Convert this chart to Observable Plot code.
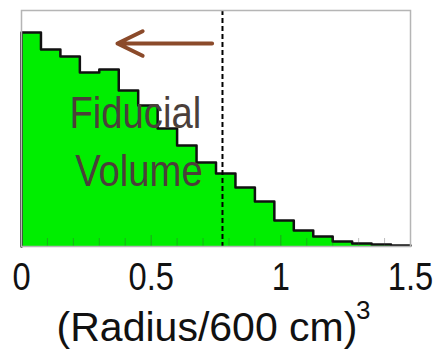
<!DOCTYPE html>
<html>
<head>
<meta charset="utf-8">
<script src="https://cdn.jsdelivr.net/npm/d3@7"></script>
<script src="https://cdn.jsdelivr.net/npm/@observablehq/plot@0.6"></script>
<style>
  html, body { margin: 0; padding: 0; background: #fff; }
  #chart svg { display: block; }
</style>
</head>
<body>
<div id="chart"></div>
<script>
// Histogram bins (lower edges) and heights (arbitrary units)
const binStart = [0, 0.075, 0.15, 0.225, 0.3, 0.375, 0.45, 0.525, 0.6, 0.675,
                  0.75, 0.825, 0.9, 0.975, 1.05, 1.125, 1.2, 1.275, 1.35, 1.425];
const binWidth = 0.075;
const counts = [214, 197, 190, 174, 177, 156, 141, 118, 101, 84,
                73, 59, 45, 26, 16, 10, 5, 3, 2, 1];
const majorTicks = [0, 0.5, 1, 1.5];
const majorTickLabels = ["0", "0.5", "1", "1.5"];
const minorTicks = [0.1, 0.2, 0.3, 0.4, 0.6, 0.7, 0.8, 0.9, 1.1, 1.2, 1.3, 1.4];
const cutX = 0.775;
const arrowFrom = 0.735, arrowTo = 0.37, arrowY = 203;
const annLines = ["Fiducial", "Volume"];
const annX = [0.185, 0.207];
const annY = [119, 61];
const xLabelMain = "(Radius/600 cm)";
const xLabelExp = "3";

const bins = binStart.map((x, i) => ({x1: x, x2: x + binWidth, y: counts[i]}));
const step = [{x: binStart[0], y: 0}]
  .concat(binStart.map((x, i) => ({x, y: counts[i]})))
  .concat([{x: binStart[binStart.length - 1] + binWidth, y: counts[counts.length - 1]}]);
const ann = annLines.map((t, i) => ({t, x: annX[i], y: annY[i]}));

const plot = Plot.plot({
  width: 444,
  height: 352,
  marginLeft: 21,
  marginRight: 34,
  marginTop: 10,
  marginBottom: 106,
  style: {fontFamily: "'Liberation Sans', Arial, sans-serif", background: "#fff"},
  x: {domain: [0, 1.5]},
  y: {domain: [0, 236], axis: null},
  marks: [
    Plot.rectY(bins, {x1: "x1", x2: "x2", y: "y", fill: "#00ee00", inset: 0, shapeRendering: "crispEdges"}),
    Plot.line(step, {x: "x", y: "y", curve: "step-after", stroke: "#111", strokeWidth: 2.5}),
    Plot.axisX({ticks: minorTicks, tickSize: -8, text: null, stroke: "#444", strokeOpacity: 0.35}),
    Plot.axisX({ticks: majorTicks, tickSize: -11, text: null, stroke: "#444", strokeOpacity: 0.45}),
    Plot.axisX({ticks: majorTicks, tickSize: 0, tickPadding: 17, fontSize: 38, label: null,
                fill: "#111", ariaDescription: "ticklabels",
                tickFormat: (d) => majorTickLabels[majorTicks.indexOf(d)]}),
    Plot.ruleX([cutX], {stroke: "#000", strokeWidth: 2, strokeDasharray: "5,3"}),
    Plot.arrow([0], {x1: () => arrowFrom, x2: () => arrowTo, y1: () => arrowY, y2: () => arrowY,
                     stroke: "#8b4a2a", strokeWidth: 4, headLength: 10.5, headAngle: 52}),
    Plot.text(ann, {x: "x", y: "y", text: "t", textAnchor: "start", lineAnchor: "bottom",
                    fontSize: 45, fill: "#4b3f3a", ariaDescription: "annotation"}),
    Plot.text([xLabelMain], {frameAnchor: "bottom", dy: 94, dx: -9, lineAnchor: "bottom",
                             fontSize: 41, fill: "#111"}),
    Plot.text([xLabelExp], {frameAnchor: "bottom", dy: 72, dx: 140, textAnchor: "start",
                            lineAnchor: "bottom", fontSize: 26, fill: "#111"}),
    Plot.frame({stroke: "#b5b5b5", strokeWidth: 1.5})
  ]
});

// Horizontally condense the annotation and tick label glyphs (as in the reference)
function condense(selector, k) {
  plot.querySelectorAll(selector).forEach((el) => {
    const t = el.getAttribute("transform") || "";
    el.setAttribute("transform", (t + ` scale(${k},1)`).trim());
  });
}
condense('g[aria-description="annotation"] text', 0.85);
condense('g[aria-description="ticklabels"] text', 0.86);

document.getElementById("chart").appendChild(plot);
</script>
</body>
</html>
